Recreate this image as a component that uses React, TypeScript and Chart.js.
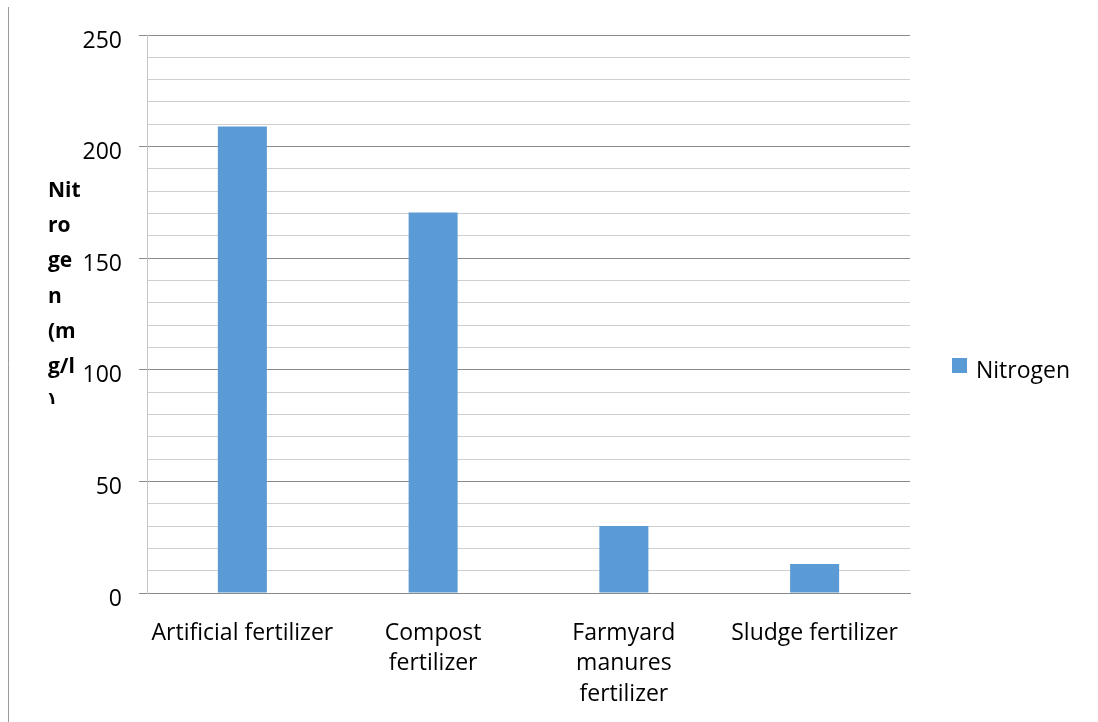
import React, { useEffect, useRef } from "react";
import { Chart, registerables } from "chart.js";

Chart.register(...registerables);

// Category labels (multi-line where the axis wraps them)
const categories: string[][] = [
  ["Artificial fertilizer"],
  ["Compost", "fertilizer"],
  ["Farmyard", "manures", "fertilizer"],
  ["Sludge fertilizer"],
];

// Nitrogen content per fertilizer type (mg/l)
const nitrogenValues: number[] = [209, 170.5, 30, 13];

const seriesName = "Nitrogen";
const axisTitleLines: string[] = ["Nit", "ro", "ge", "n", "(m", "g/l", ")"];

const yMin = 0;
const yMax = 250;
const yStep = 10;
const yLabelEvery = 50;

const BAR_COLOR = "#5B9BD5";
const FONT = "'Open Sans', 'Noto Sans', sans-serif";

// Draws the page rule, the wrapped y-axis title and the series legend
const decorations = {
  id: "decorations",
  afterDraw(chart: Chart) {
    const { ctx, chartArea } = chart;
    ctx.save();

    // thin rule on the left edge of the page
    ctx.strokeStyle = "#9a9a9a";
    ctx.lineWidth = 1;
    ctx.beginPath();
    ctx.moveTo(8.5, 7);
    ctx.lineTo(8.5, chart.height);
    ctx.stroke();

    // wrapped, clipped y-axis title
    ctx.save();
    ctx.beginPath();
    ctx.rect(30, 150, 60, 254);
    ctx.clip();
    ctx.fillStyle = "#000";
    ctx.font = `bold 21px ${FONT}`;
    ctx.textAlign = "left";
    ctx.textBaseline = "alphabetic";
    axisTitleLines.forEach((line, i) => {
      ctx.fillText(line, 48, 197 + i * 35.2);
    });
    ctx.restore();

    // legend
    const ds = chart.data.datasets[0];
    const lx = chartArea.right + 42;
    const ly = 358;
    ctx.fillStyle = (ds.backgroundColor as string) || BAR_COLOR;
    ctx.fillRect(lx, ly, 15, 15);
    ctx.fillStyle = "#000";
    ctx.font = `23px ${FONT}`;
    ctx.textAlign = "left";
    ctx.textBaseline = "alphabetic";
    ctx.fillText(String(ds.label), lx + 24, 378);

    ctx.restore();
  },
};

export default function App() {
  const canvasRef = useRef<HTMLCanvasElement | null>(null);

  useEffect(() => {
    const canvas = canvasRef.current;
    if (!canvas) return;

    const chart = new Chart(canvas, {
      type: "bar",
      data: {
        labels: categories,
        datasets: [
          {
            label: seriesName,
            data: nitrogenValues,
            backgroundColor: BAR_COLOR,
            borderWidth: 0,
            categoryPercentage: 1,
            barPercentage: 0.257,
          },
        ],
      },
      options: {
        animation: false,
        responsive: false,
        maintainAspectRatio: false,
        layout: { padding: { left: 0, right: 188, top: 35, bottom: 0 } },
        plugins: {
          legend: { display: false },
          tooltip: { enabled: false },
          title: { display: false },
        },
        scales: {
          x: {
            grid: { display: false, drawTicks: false },
            border: { display: true, color: "#8a8a8a", width: 1 },
            ticks: {
              color: "#000",
              font: { family: FONT, size: 23, lineHeight: 1.33 },
              padding: 25,
              maxRotation: 0,
              minRotation: 0,
              autoSkip: false,
            },
            afterFit(axis: any) {
              axis.height = 129;
            },
          },
          y: {
            min: yMin,
            max: yMax,
            border: { display: true, color: "#c4c4c4", width: 1 },
            grid: {
              color: (c: any) =>
                c.tick && c.tick.value % yLabelEvery === 0 ? "#8a8a8a" : "#cfcfcf",
              tickColor: (c: any) =>
                c.tick && c.tick.value % yLabelEvery === 0 ? "#8a8a8a" : "rgba(0,0,0,0)",
              tickLength: 8,
              lineWidth: 1,
            },
            ticks: {
              stepSize: yStep,
              autoSkip: false,
              color: "#000",
              font: { family: FONT, size: 23 },
              padding: 17,
              labelOffset: 6,
              callback: (v: any) => (Number(v) % yLabelEvery === 0 ? String(v) : ""),
            },
            afterFit(axis: any) {
              axis.width = 147;
            },
          },
        },
      },
      plugins: [decorations],
    });

    return () => chart.destroy();
  }, []);

  return (
    <div style={{ position: "absolute", left: 0, top: 0, width: 1098, height: 722, background: "#fff" }}>
      <canvas ref={canvasRef} width={1098} height={722} style={{ display: "block" }} />
    </div>
  );
}
